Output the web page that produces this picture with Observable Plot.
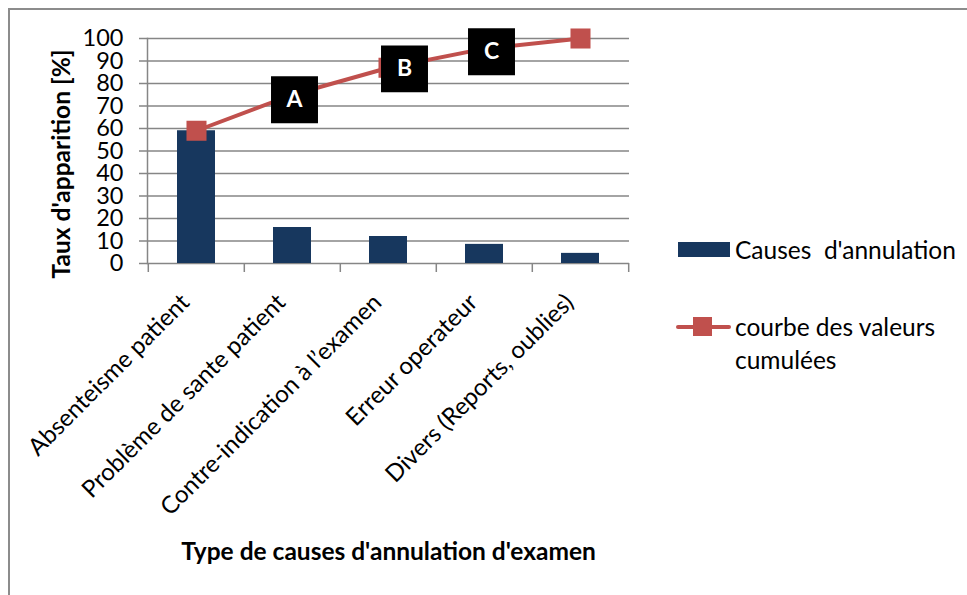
<!DOCTYPE html>
<html>
<head>
<meta charset="utf-8">
<script src="https://cdn.jsdelivr.net/npm/d3@7"></script>
<script src="https://cdn.jsdelivr.net/npm/@observablehq/plot@0.6"></script>
<style>
  body { margin: 0; background: #fff; }
  #wrap { position: relative; width: 967px; height: 595px; overflow: hidden; font-family: Lato, "Open Sans", sans-serif; }
  #frame { position: absolute; left: 8px; top: 8px; width: 1200px; height: 800px; border-top: 2px solid #8c8c8c; border-left: 2px solid #8c8c8c; }
  #chart { position: absolute; left: 0; top: 0; }
  .leg { position: absolute; font-size: 24.5px; line-height: 33px; color: #000; }
  .leg .txt { position: absolute; left: 59px; top: 0; white-space: pre; }
  .leg.wrap .txt { white-space: normal; width: 232px; }
  .sw-bar { position: absolute; left: 2px; top: 9px; width: 52px; height: 15px; background: #17375E; }
  .sw-line { position: absolute; left: 0; top: 14.5px; width: 55px; height: 4px; border-radius: 2px; background: #C0504D; }
  .sw-mark { position: absolute; left: 17px; top: 7px; width: 19px; height: 19px; background: #C0504D; }
</style>
</head>
<body>
<div id="wrap">
  <div id="frame"></div>
  <div id="chart"></div>
  <div class="leg" id="leg1" style="left:676px; top:233px;"><div class="sw-bar"></div><div class="txt"></div></div>
  <div class="leg wrap" id="leg2" style="left:676px; top:310px;"><div class="sw-line"></div><div class="sw-mark"></div><div class="txt"></div></div>
</div>
<script>
// ---- data ----
const categories = [
  "Absenteisme patient",
  "Problème de sante patient",
  "Contre-indication à l\u2019examen",
  "Erreur operateur",
  "Divers (Reports, oublies)"
];
const values = [59, 16, 12, 8.5, 4.5];
const cumulative = [59, 75, 87, 95.5, 100];
const yTicks = [0, 10, 20, 30, 40, 50, 60, 70, 80, 90, 100];
const annoLabels = ["A", "B", "C"];
const annoCategories = [categories[1], categories[2], categories[3]];
const annoValues = [72.8, 86.5, 94.1];
const seriesNames = ["Causes  d'annulation", "courbe des valeurs cumulées"];
const yTitle = "Taux d'apparition [%]";
const xTitle = "Type de causes d'annulation d'examen";

// ---- styling / layout ----
const barColor = "#17375E";
const lineColor = "#C0504D";
const gridColor = "#868686";
const annoDx = [2, 16, 7];
const bandWidth = (629 - 147) / categories.length;

const bars = categories.map((c, i) => ({cat: c, value: values[i]}));
const cum = categories.map((c, i) => ({cat: c, value: cumulative[i]}));

const annoMarks = annoLabels.flatMap((lab, i) => {
  const d = [{cat: annoCategories[i], value: annoValues[i], label: lab}];
  return [
    Plot.dot(d, {x: "cat", y: "value", symbol: "square", r: 26.5, fill: "#000", dx: annoDx[i]}),
    Plot.text(d, {x: "cat", y: "value", text: "label", fill: "#fff", fontWeight: "bold", fontSize: 23, dx: annoDx[i]})
  ];
});

const chart = Plot.plot({
  width: 967,
  height: 595,
  marginLeft: 147,
  marginRight: 338,
  marginTop: 38,
  marginBottom: 332,
  style: {background: "transparent", fontFamily: "Lato, 'Open Sans', sans-serif", color: "#000"},
  x: {domain: categories, padding: 0, label: null},
  y: {domain: [0, 100], label: null},
  marks: [
    Plot.gridY(yTicks, {stroke: gridColor, strokeOpacity: 1, strokeWidth: 1.5}),
    Plot.barY(bars, {x: "cat", y: "value", fill: barColor, insetLeft: 29, insetRight: 29}),
    Plot.frame({anchor: "left", stroke: gridColor, strokeWidth: 1.5}),
    Plot.axisY({ticks: yTicks, tickSize: 8, text: null, stroke: gridColor, strokeWidth: 1.5, label: null}),
    Plot.axisY({ticks: yTicks, tickSize: 0, tickPadding: 24, fontSize: 23.5, label: null}),
    Plot.axisX({tickSize: 9, text: null, stroke: gridColor, strokeWidth: 1.5, dx: -bandWidth / 2, label: null}),
    Plot.axisX({ticks: [categories[categories.length - 1]], tickSize: 9, text: null, stroke: gridColor, strokeWidth: 1.5, dx: bandWidth / 2, label: null}),
    Plot.axisX({tickSize: 0, tickPadding: 30, tickRotate: -45, fontSize: 24, dx: -11, dy: 5, label: null}),
    Plot.line(cum, {x: "cat", y: "value", stroke: lineColor, strokeWidth: 4}),
    Plot.dot(cum, {x: "cat", y: "value", symbol: "square", r: 11.3, fill: lineColor}),
    ...annoMarks,
    Plot.text([yTitle], {frameAnchor: "left", textAnchor: "middle", rotate: -90, dx: -85, dy: 13, fontWeight: "bold", fontSize: 24.5}),
    Plot.text([xTitle], {frameAnchor: "bottom", dy: 296, fontWeight: "bold", fontSize: 24.5})
  ]
});
document.getElementById("chart").appendChild(chart);
document.querySelector("#leg1 .txt").textContent = seriesNames[0];
document.querySelector("#leg2 .txt").textContent = seriesNames[1];
</script>
</body>
</html>
